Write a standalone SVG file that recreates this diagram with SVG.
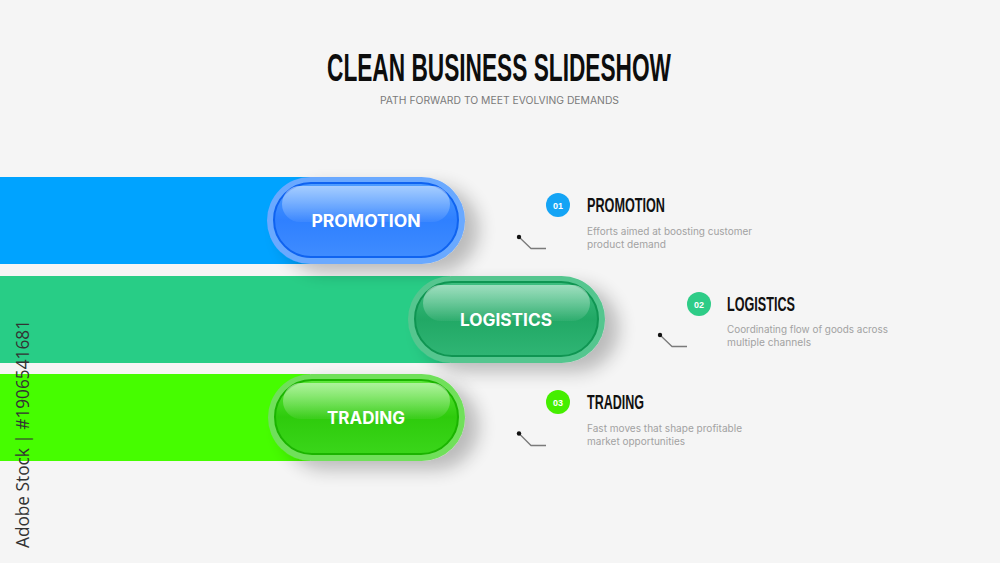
<svg xmlns="http://www.w3.org/2000/svg" width="1000" height="563" viewBox="0 0 1000 563">
<defs>
<style>
.title{font-family:"Liberation Sans",Arial,sans-serif;font-weight:700;fill:#0d0d0d}
.sub{font-family:"Inter","Liberation Sans",sans-serif;font-size:10px;fill:#7a7a7a}
.pilltxt{font-family:"Inter","Open Sans","Liberation Sans",sans-serif;font-weight:700;font-size:17px;fill:#ffffff;text-anchor:middle}
.head{font-family:"Liberation Sans",Arial,sans-serif;font-weight:700;font-size:20px;fill:#111}
.desc{font-family:"Inter","Liberation Sans",sans-serif;font-size:10px;fill:#a2a2a2}
.num{font-family:"Liberation Sans",Arial,sans-serif;font-weight:700;font-size:9px;fill:#fff;text-anchor:middle}
.lead{fill:none;stroke:#7a7a7a;stroke-width:1.3}
.dot{fill:#111}
.wm{font-family:"Open Sans","Liberation Sans",sans-serif;font-size:19px;fill:#333}
</style>
<filter id="sh" x="-20%" y="-30%" width="160%" height="180%">
<feGaussianBlur in="SourceAlpha" stdDeviation="9"/>
<feOffset dx="14" dy="9" result="b"/>
<feComponentTransfer><feFuncA type="linear" slope="0.24"/></feComponentTransfer>
<feMerge><feMergeNode/><feMergeNode in="SourceGraphic"/></feMerge>
</filter>
<linearGradient id="gBlue" x1="0" y1="0" x2="0" y2="1">
<stop offset="0" stop-color="#4d9dff"/><stop offset="0.5" stop-color="#2f80ff"/><stop offset="1" stop-color="#3f8cff"/>
</linearGradient>
<linearGradient id="gGreen" x1="0" y1="0" x2="0" y2="1">
<stop offset="0" stop-color="#3fbf80"/><stop offset="0.5" stop-color="#21a865"/><stop offset="1" stop-color="#2fb574"/>
</linearGradient>
<linearGradient id="gLime" x1="0" y1="0" x2="0" y2="1">
<stop offset="0" stop-color="#5fe83c"/><stop offset="0.5" stop-color="#2ecb0c"/><stop offset="1" stop-color="#3ad61a"/>
</linearGradient>
<linearGradient id="gloss" x1="0" y1="0" x2="0" y2="1">
<stop offset="0" stop-color="#ffffff" stop-opacity="0.5"/><stop offset="1" stop-color="#ffffff" stop-opacity="0.06"/>
</linearGradient>
</defs>
<rect x="0" y="0" width="1000" height="563" fill="#f5f5f5"/>

<g id="title">
<text class="title" x="327" y="81" font-size="38" textLength="344" lengthAdjust="spacingAndGlyphs">CLEAN BUSINESS SLIDESHOW</text>
<text class="sub" x="380" y="104" textLength="239" lengthAdjust="spacingAndGlyphs">PATH FORWARD TO MEET EVOLVING DEMANDS</text>
</g>

<g id="bars">
<rect x="0" y="177" width="310" height="87" fill="#00a3ff"/>
<rect x="0" y="276" width="450" height="87" fill="#28cd86"/>
<rect x="0" y="374" width="310" height="87" fill="#46fd00"/>
</g>

<g id="pill-promotion">
<rect x="267" y="177" width="198" height="87" rx="43.5" fill="#6aa9ff" filter="url(#sh)"/>
<rect x="274" y="183" width="184" height="74" rx="37" fill="url(#gBlue)" stroke="#0f63f0" stroke-width="2"/>
<rect x="282" y="186" width="168" height="36" rx="18" fill="url(#gloss)"/>
<text class="pilltxt" x="366" y="227" textLength="109" lengthAdjust="spacingAndGlyphs">PROMOTION</text>
</g>

<g id="pill-logistics">
<rect x="408" y="276" width="197" height="87" rx="43.5" fill="#55c68f" filter="url(#sh)"/>
<rect x="415" y="282" width="183" height="74" rx="37" fill="url(#gGreen)" stroke="#0f9552" stroke-width="2"/>
<rect x="423" y="285" width="167" height="36" rx="18" fill="url(#gloss)"/>
<text class="pilltxt" x="506" y="326" textLength="92" lengthAdjust="spacingAndGlyphs">LOGISTICS</text>
</g>

<g id="pill-trading">
<rect x="268" y="374" width="197" height="87" rx="43.5" fill="#6fe05a" filter="url(#sh)"/>
<rect x="275" y="380" width="183" height="74" rx="37" fill="url(#gLime)" stroke="#1bb400" stroke-width="2"/>
<rect x="283" y="383" width="167" height="36" rx="18" fill="url(#gloss)"/>
<text class="pilltxt" x="366" y="424" textLength="78" lengthAdjust="spacingAndGlyphs">TRADING</text>
</g>

<g id="item-01">
<circle cx="558" cy="205" r="12" fill="#14a4f5"/>
<text class="num" x="558" y="208.5">01</text>
<text class="head" x="587" y="212" textLength="78" lengthAdjust="spacingAndGlyphs">PROMOTION</text>
<text class="desc" x="587" y="235" textLength="165" lengthAdjust="spacingAndGlyphs">Efforts aimed at boosting customer</text>
<text class="desc" x="587" y="248" textLength="79" lengthAdjust="spacingAndGlyphs">product demand</text>
</g>

<g id="item-02">
<circle cx="699" cy="304" r="12" fill="#2ecc87"/>
<text class="num" x="699" y="307.5">02</text>
<text class="head" x="727" y="311" textLength="68" lengthAdjust="spacingAndGlyphs">LOGISTICS</text>
<text class="desc" x="727" y="333" textLength="161" lengthAdjust="spacingAndGlyphs">Coordinating flow of goods across</text>
<text class="desc" x="727" y="346" textLength="84" lengthAdjust="spacingAndGlyphs">multiple channels</text>
</g>

<g id="item-03">
<circle cx="558" cy="402" r="12" fill="#45ee00"/>
<text class="num" x="558" y="405.5">03</text>
<text class="head" x="587" y="409" textLength="57" lengthAdjust="spacingAndGlyphs">TRADING</text>
<text class="desc" x="587" y="432" textLength="155" lengthAdjust="spacingAndGlyphs">Fast moves that shape profitable</text>
<text class="desc" x="587" y="445" textLength="98" lengthAdjust="spacingAndGlyphs">market opportunities</text>
</g>

<g id="connectors">
<polyline class="lead" points="519,237 531,248.5 546,248.5"/>
<circle class="dot" cx="519" cy="237" r="2.2"/>
<polyline class="lead" points="660,335 672,346.5 687,346.5"/>
<circle class="dot" cx="660" cy="335" r="2.2"/>
<polyline class="lead" points="519,433.5 531,445.5 546,445.5"/>
<circle class="dot" cx="519" cy="433.5" r="2.2"/>
</g>

<text class="wm" transform="translate(29,548) rotate(-90)" textLength="228" lengthAdjust="spacingAndGlyphs">Adobe Stock | #1906541681</text>
</svg>
